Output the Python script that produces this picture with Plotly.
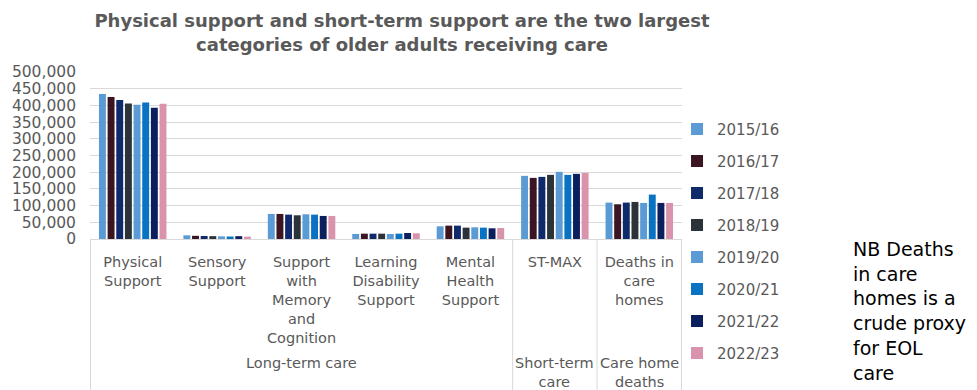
import plotly.graph_objects as go

# Service categories shown along the x axis (line breaks as displayed)
categories = [
    "Physical<br>Support",
    "Sensory<br>Support",
    "Support<br>with<br>Memory<br>and<br>Cognition",
    "Learning<br>Disability<br>Support",
    "Mental<br>Health<br>Support",
    "ST-MAX",
    "Deaths in<br>care<br>homes",
]

years = ["2015/16", "2016/17", "2017/18", "2018/19",
         "2019/20", "2020/21", "2021/22", "2022/23"]

# Number of older adults per category, one list per year
v_2015_16 = [434000, 11000, 75000, 15000, 38000, 189000, 109000]
v_2016_17 = [425000, 9500, 75000, 16000, 40000, 183000, 104000]
v_2017_18 = [416000, 9000, 73000, 16000, 40000, 186000, 109000]
v_2018_19 = [406000, 8500, 71000, 16000, 34000, 192000, 111000]
v_2019_20 = [402000, 8000, 74000, 15000, 35000, 201000, 108000]
v_2020_21 = [409000, 7500, 73000, 16000, 34000, 192000, 133000]
v_2021_22 = [393000, 8500, 69000, 18000, 32000, 195000, 108000]
v_2022_23 = [405000, 7000, 69000, 17000, 33000, 198000, 108000]

series = [v_2015_16, v_2016_17, v_2017_18, v_2018_19,
          v_2019_20, v_2020_21, v_2021_22, v_2022_23]

colors = ["#5B9BD5", "#3B1522", "#0E2A6B", "#2B3238",
          "#5B9BD5", "#0A72C2", "#0B1F5E", "#D993AC"]

# Care groups and the category spans they cover (first, last index)
groups = ["Long-term care", "Short-term<br>care", "Care home<br>deaths"]
group_spans = [(0, 4), (5, 5), (6, 6)]

GREY = "#595959"
LINE = "#D9D9D9"
FONT = "DejaVu Sans"

fig = go.Figure()
for name, vals, col in zip(years, series, colors):
    fig.add_trace(go.Bar(
        x=categories, y=vals, name=name, legendgroup=name,
        marker=dict(color=col, line=dict(width=0)),
    ))

# Divider lines below the axis, at the group edges
edges = [-0.5] + [span[1] + 0.5 for span in group_spans]
for e in edges:
    fig.add_shape(type="line", xref="x", yref="paper",
                  x0=e, x1=e, y0=0, y1=-0.91,
                  line=dict(color=LINE, width=1))

# Group labels
for g, (a, b) in zip(groups, group_spans):
    fig.add_annotation(
        x=(a + b) / 2, xref="x", y=-0.684, yref="paper",
        yanchor="top", xanchor="center", showarrow=False,
        text=g, align="center",
        font=dict(family=FONT, size=14.5, color=GREY),
    )

fig.add_annotation(
    x=1.286, xref="paper", xanchor="left",
    y=0.02, yref="paper", yanchor="top",
    text="NB Deaths<br>in care<br>homes is a<br>crude proxy<br>for EOL<br>care",
    showarrow=False, align="left",
    font=dict(family=FONT, size=19, color="#000000"),
)

fig.update_layout(
    width=977, height=390,
    margin=dict(l=88, r=295, t=72, b=151),
    paper_bgcolor="white", plot_bgcolor="white",
    font=dict(family=FONT, color=GREY),
    title=dict(
        text="<b>Physical support and short-term support are the two largest<br>"
             "categories of older adults receiving care</b>",
        x=0.4115, xref="container", xanchor="center",
        y=0.93, yref="container", yanchor="top",
        font=dict(family=FONT, size=18, color=GREY),
    ),
    barmode="group", bargap=0.18, bargroupgap=0.2,
    showlegend=True,
    legend=dict(
        x=0.9916, xanchor="left", y=0.756, yanchor="top",
        font=dict(family=FONT, size=15, color=GREY),
        tracegroupgap=9.5, bgcolor="rgba(0,0,0,0)",
        maxheight=400,
    ),
    xaxis=dict(
        type="category", showgrid=False, showline=True, linecolor=LINE,
        linewidth=1, ticks="", ticklabelstandoff=10,
        tickfont=dict(family=FONT, size=14.5, color=GREY),
        fixedrange=True,
    ),
    yaxis=dict(
        range=[0, 500000], dtick=50000, tickformat=",d",
        showgrid=True, gridcolor=LINE, gridwidth=1, zeroline=False,
        showline=False, ticks="", ticklabelstandoff=13,
        tickfont=dict(family=FONT, size=15.5, color=GREY),
        fixedrange=True,
    ),
)

fig.write_html("out.html")
